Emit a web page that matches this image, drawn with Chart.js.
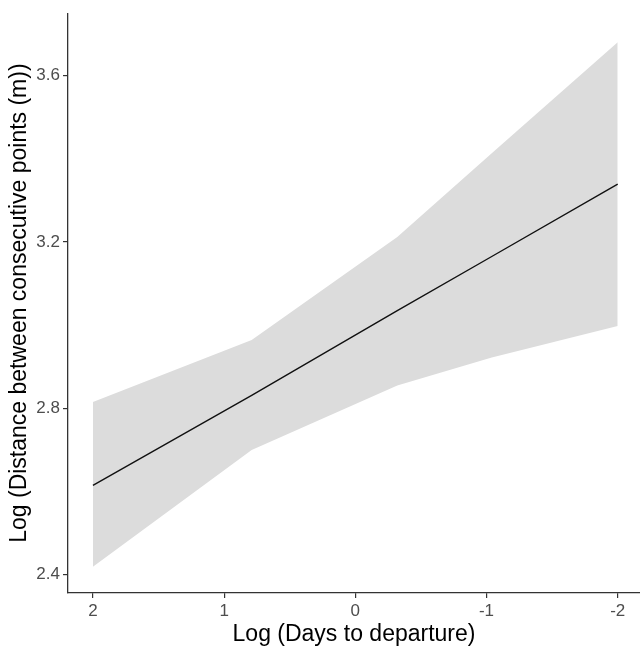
<!DOCTYPE html>
<html><head><meta charset="utf-8">
<script src="https://cdn.jsdelivr.net/npm/chart.js@4/dist/chart.umd.min.js"></script>
<style>html,body{margin:0;padding:0;background:#fff}#wrap{width:640px;height:646px}</style>
</head><body><div id="wrap"><canvas id="c" width="640" height="646"></canvas></div>
<script>
const xValues = [2, 0.79, -0.32, -1.04, -2];
const fitValues = [2.615, 2.831, 3.035, 3.165, 3.339];
const upperValues = [2.815, 2.964, 3.212, 3.413, 3.68];
const lowerValues = [2.419, 2.70, 2.855, 2.922, 2.998];
const xTicks = [2, 1, 0, -1, -2];
const yTicks = [2.4, 2.8, 3.2, 3.6];

const pts = (ys) => xValues.map((x, i) => ({x: x, y: ys[i]}));
const font = "'Liberation Sans', Arial, sans-serif";

new Chart(document.getElementById('c'), {
  type: 'line',
  data: {
    datasets: [
      {data: pts(upperValues), borderWidth: 0, pointRadius: 0, fill: '+1', backgroundColor: '#dcdcdc', tension: 0, order: 2},
      {data: pts(lowerValues), borderWidth: 0, pointRadius: 0, fill: false, tension: 0, order: 3},
      {data: pts(fitValues), borderColor: '#111', borderWidth: 1.4, pointRadius: 0, fill: false, tension: 0, order: 0}
    ]
  },
  options: {
    responsive: false, animation: false,
    layout: {padding: {top: 9, right: 0, left: 0, bottom: 0}},
    plugins: {legend: {display: false}, tooltip: {enabled: false}},
    scales: {
      x: {
        type: 'linear', reverse: true, min: -2.17, max: 2.19,
        afterBuildTicks: (s) => { s.ticks = xTicks.map(v => ({value: v})); },
        afterFit: (s) => { s.height = 53; },
        border: {display: true, color: '#333', width: 1.3},
        grid: {drawOnChartArea: false, drawTicks: true, tickLength: 5, color: '#333', lineWidth: 1.2},
        ticks: {color: '#4d4d4d', font: {family: font, size: 17}, padding: 3, maxRotation: 0, callback: (v) => String(v)},
        title: {display: true, text: 'Log (Days to departure)', color: '#000', font: {family: font, size: 23, lineHeight: 1}, padding: {top: 0, bottom: 0}}
      },
      y: {
        type: 'linear', min: 2.356, max: 3.75,
        afterBuildTicks: (s) => { s.ticks = yTicks.map(v => ({value: v})); },
        afterFit: (s) => { s.width = 68; },
        border: {display: true, color: '#333', width: 1.3},
        grid: {drawOnChartArea: false, drawTicks: true, tickLength: 5, color: '#333', lineWidth: 1.2},
        ticks: {color: '#4d4d4d', font: {family: font, size: 17}, padding: 3, callback: (v) => Number(v).toFixed(1)},
        title: {display: true, text: 'Log (Distance between consecutive points (m))', color: '#000', font: {family: font, size: 23, lineHeight: 1}, padding: {top: 8, bottom: 0}}
      }
    }
  }
});
</script></body></html>
